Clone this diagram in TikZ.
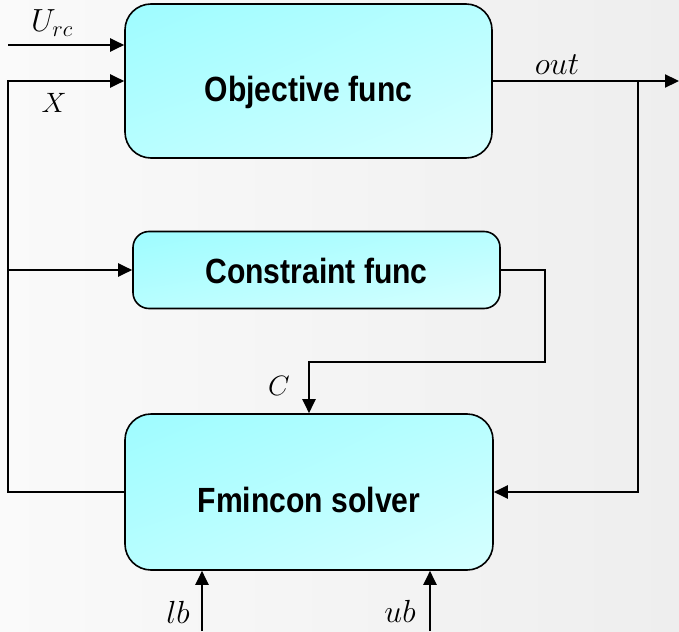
\RequirePackage{fix-cm}
\documentclass[tikz,border=0pt]{standalone}
\usepackage{fontspec}
\newfontfamily\boxfont[FakeStretch=0.86]{Liberation Sans}
\usetikzlibrary{arrows.meta,calc,shadings}

\definecolor{bgleft}{HTML}{FAFAFA}
\definecolor{bgright}{HTML}{EEEEEE}
\definecolor{fillA}{HTML}{9EFCFF}
\definecolor{fillB}{HTML}{B8FEFF}
\definecolor{fillC}{HTML}{D6FFFF}

\tikzset{
  x=1pt, y=-1pt,
  block/.style={draw=black, line width=1.6pt, rounded corners=#1,
    upper left=fillA, upper right=fillB, lower left=fillB, lower right=fillC,
    inner sep=0pt},
  blocktext/.style={anchor=base, inner sep=0pt,
    font=\boxfont\bfseries\fontsize{35}{38}\selectfont},
  arr/.style={line width=2.2pt, -{Triangle[length=14pt,width=13pt]}},
  lbl/.style={anchor=base, inner sep=0pt, font=\fontsize{32}{34}\selectfont},
}

\begin{document}
\begin{tikzpicture}
  % page and background
  \useasboundingbox (0,0) rectangle (679,631);
  \shade[left color=bgleft, right color=bgright] (0,0) rectangle (679,631);

  % blocks
  \node[block=26pt, minimum width=367pt, minimum height=154pt] (obj) at (308.5,81) {};
  \node[block=16pt, minimum width=367pt, minimum height=77pt] (con) at (316.5,270) {};
  \node[block=26pt, minimum width=368pt, minimum height=156pt] (fmin) at (309,492) {};

  % block titles, set on their baselines
  \node[blocktext] (objtxt) at ($(obj.center)+(0,21)$) {Objective func};
  \node[blocktext] (contxt) at ($(con.center)+(0,13)$) {Constraint func};
  \node[blocktext] (fmintxt) at ($(fmin.center)+(0,20)$) {Fmincon solver};

  % free ends and corners of the wiring
  \coordinate (urcin) at (8,45);
  \coordinate (xleft) at (8,492);
  \coordinate (xbranch) at (8,270);
  \coordinate (outend) at (679,81);
  \coordinate (outbranch) at (638,81);
  \coordinate (cturn) at (545,362);
  \coordinate (lbin) at (202,631);
  \coordinate (ubin) at (430,631);

  % inputs of the objective function
  \draw[arr] (urcin) -- (urcin -| obj.west);
  \draw[arr] (fmin.west) -- (xleft) |- (obj.west);
  \draw[arr] (xbranch) -- (con.west);

  % objective output, fed back to the solver
  \draw[arr] (obj.east) -- (outend);
  \draw[arr] (outbranch) |- (fmin.east);

  % constraint output
  \draw[arr] (con.east) -| (cturn) -| (fmin.north);

  % bounds
  \draw[arr] (lbin) -- (lbin |- fmin.south);
  \draw[arr] (ubin) -- (ubin |- fmin.south);

  % signal labels
  \node[lbl] (lurc) at (52,32) {$U_{rc}$};
  \node[lbl, font=\fontsize{28}{30}\selectfont] (lx) at (54,113) {$X$};
  \node[lbl] (lout) at (557,75) {$out$};
  \node[lbl, font=\fontsize{28}{30}\selectfont] (lc) at (279,395) {$C$};
  \node[lbl] (llb) at (178,623) {$lb$};
  \node[lbl] (lub) at (400,622) {$ub$};
\end{tikzpicture}
\end{document}
